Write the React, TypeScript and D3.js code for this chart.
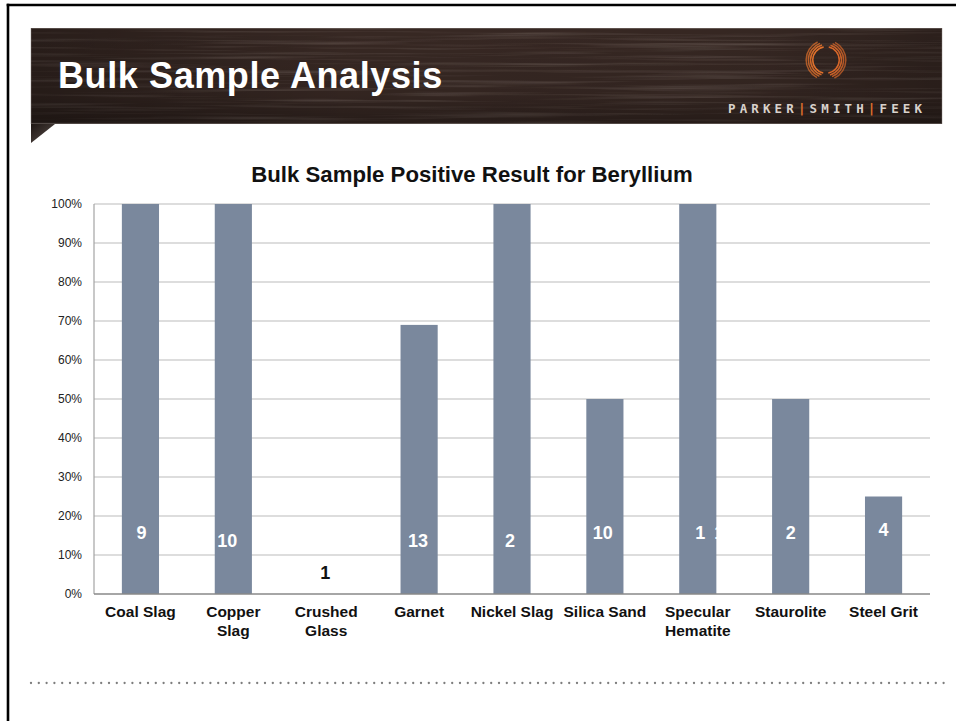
import React from "react";
import * as d3 from "d3";

// ---- data ----
const categories = [
  "Coal Slag",
  "Copper\nSlag",
  "Crushed\nGlass",
  "Garnet",
  "Nickel Slag",
  "Silica Sand",
  "Specular\nHematite",
  "Staurolite",
  "Steel Grit",
];
const percentPositive = [100, 100, 0, 69, 100, 50, 100, 50, 25];
const sampleCounts = [9, 10, 1, 13, 2, 10, 11, 2, 4];
const yTicks = [0, 10, 20, 30, 40, 50, 60, 70, 80, 90, 100];
const slideTitle = "Bulk Sample Analysis";
const chartTitle = "Bulk Sample Positive Result for Beryllium";
const brandParts = ["PARKER", "SMITH", "FEEK"];

// ---- layout (label nudges: dx px, rise above baseline px, extra letter spacing) ----
const labelDx = [1, -6, -1, -1, -2, -2, 12, 0, 0];
const labelRise = [61, 53, 21, 53, 53, 61, 61, 61, 64];
const labelSpacing = [0, 0, 0, 0, 0, 0, 10, 0, 0];

const W = 956;
const H = 721;
const plot = { left: 94, right: 930, top: 204, bottom: 594 };
const FONT = "'Liberation Sans', Arial, Helvetica, sans-serif";
const BAR = "#7a889d";

export default function App() {
  const x = d3
    .scaleBand<string>()
    .domain(categories)
    .range([plot.left, plot.right])
    .paddingInner(0.6)
    .paddingOuter(0.3);
  const y = d3.scaleLinear().domain([0, 100]).range([plot.bottom, plot.top]);
  const fmt = (v: number) => `${v}%`;

  const logoC = { x: 826, y: 60 };
  const arcGen = d3.arc();
  const leftArcs = [0, 1, 2, 3].map((i) =>
    arcGen({
      innerRadius: 12.5 + i * 2.2,
      outerRadius: 14.0 + i * 2.2,
      startAngle: (Math.PI * 2 * (192 + i * 5)) / 360,
      endAngle: (Math.PI * 2 * (350 - i * 5)) / 360,
    } as any)
  );
  const rightArcs = [0, 1, 2, 3].map((i) =>
    arcGen({
      innerRadius: 12.5 + i * 2.2,
      outerRadius: 14.0 + i * 2.2,
      startAngle: (Math.PI * 2 * (12 + i * 5)) / 360,
      endAngle: (Math.PI * 2 * (170 - i * 5)) / 360,
    } as any)
  );

  const dots = d3.range(31, 946, 7.8);

  return (
    <svg
      width={W}
      height={H}
      viewBox={`0 0 ${W} ${H}`}
      style={{ position: "absolute", left: 0, top: 0, background: "#fff" }}
      fontFamily={FONT}
    >
      <defs>
        <filter id="wood" x="0" y="0" width="1" height="1" filterUnits="objectBoundingBox">
          <feTurbulence type="fractalNoise" baseFrequency="0.005 0.3" numOctaves="3" seed="7" result="n" />
          <feColorMatrix
            in="n"
            type="matrix"
            values="0 0 0 0 0.48  0 0 0 0 0.4  0 0 0 0 0.36  1.5 0 0 0 -0.7"
          />
        </filter>
        <linearGradient id="bannerShade" x1="0" y1="0" x2="1" y2="0">
          <stop offset="0" stopColor="#000" stopOpacity="0.3" />
          <stop offset="0.35" stopColor="#000" stopOpacity="0.05" />
          <stop offset="0.8" stopColor="#000" stopOpacity="0.08" />
          <stop offset="1" stopColor="#000" stopOpacity="0.25" />
        </linearGradient>
        <linearGradient id="bannerV" x1="0" y1="0" x2="0" y2="1">
          <stop offset="0" stopColor="#000" stopOpacity="0.0" />
          <stop offset="0.7" stopColor="#000" stopOpacity="0.08" />
          <stop offset="1" stopColor="#000" stopOpacity="0.3" />
        </linearGradient>
        <linearGradient id="fold" x1="0" y1="0" x2="1" y2="1">
          <stop offset="0" stopColor="#1e1613" />
          <stop offset="1" stopColor="#5a504c" />
        </linearGradient>
      </defs>

      {/* slide frame */}
      <line x1={8} y1={3.8} x2={8} y2={H} stroke="#000" strokeWidth={2.6} />
      <line x1={6.7} y1={5} x2={W} y2={5} stroke="#000" strokeWidth={2.6} />

      {/* banner */}
      <path d="M31,124 L31,143 L55,124 Z" fill="url(#fold)" />
      <rect x={31} y={28} width={911} height={96} fill="#3a2a25" />
      <rect x={31} y={28} width={911} height={96} filter="url(#wood)" opacity={0.4} />
      <rect x={31} y={28} width={911} height={96} fill="url(#bannerShade)" />
      <rect x={31} y={28} width={911} height={96} fill="url(#bannerV)" />
      <rect x={31} y={28.5} width={911} height={95} fill="none" stroke="#8a817d" strokeOpacity={0.45} strokeWidth={1} />

      <text x={58} y={88} fill="#fff" fontSize={36} fontWeight="bold" letterSpacing={0.6}>
        {slideTitle}
      </text>

      {/* logo */}
      <g transform={`translate(${logoC.x},${logoC.y})`}>
        {leftArcs.map((d, i) => (
          <path key={"l" + i} d={d || ""} fill="#e0712c" opacity={1 - i * 0.1} />
        ))}
        {rightArcs.map((d, i) => (
          <path key={"r" + i} d={d || ""} fill="#d7672a" opacity={1 - i * 0.1} />
        ))}
      </g>
      <text
        x={728}
        y={113}
        fontSize={12.5}
        fontWeight="bold"
        fill="#d9d2cc"
        textLength={194}
        lengthAdjust="spacing"
        fontFamily="'DejaVu Sans Mono', monospace"
      >
        <tspan>{brandParts[0]}</tspan>
        <tspan fill="#e0712c">|</tspan>
        <tspan>{brandParts[1]}</tspan>
        <tspan fill="#e0712c">|</tspan>
        <tspan>{brandParts[2]}</tspan>
      </text>

      {/* chart title */}
      <text x={472} y={182} textAnchor="middle" fontSize={22.2} fontWeight="bold" fill="#111">
        {chartTitle}
      </text>

      {/* gridlines */}
      {yTicks.map((t) =>
        t === 0 ? null : (
          <line
            key={"g" + t}
            x1={plot.left}
            x2={plot.right}
            y1={y(t)}
            y2={y(t)}
            stroke="#bcbcbc"
            strokeWidth={1.2}
          />
        )
      )}
      {/* y tick labels */}
      {yTicks.map((t) => (
        <text
          key={"t" + t}
          x={82}
          y={y(t)}
          dy="0.35em"
          textAnchor="end"
          fontSize={12}
          fill="#222"
        >
          {fmt(t)}
        </text>
      ))}

      {/* bars */}
      {categories.map((c, i) => (
        <rect
          key={"b" + c}
          x={x(c)}
          y={y(percentPositive[i])}
          width={x.bandwidth()}
          height={y(0) - y(percentPositive[i])}
          fill={BAR}
        />
      ))}

      {/* axes */}
      <line x1={plot.left} x2={plot.left} y1={plot.top} y2={plot.bottom} stroke="#a3a3a3" strokeWidth={1.2} />
      <line x1={plot.left} x2={plot.right} y1={plot.bottom} y2={plot.bottom} stroke="#888" strokeWidth={1.5} />

      {/* count labels */}
      {categories.map((c, i) => (
        <text
          key={"n" + c}
          x={(x(c) as number) + x.bandwidth() / 2 + labelDx[i] + labelSpacing[i] / 2}
          y={y(0) - labelRise[i]}
          dy="0.35em"
          textAnchor="middle"
          fontSize={18}
          fontWeight="bold"
          letterSpacing={labelSpacing[i]}
          fill={percentPositive[i] > 0 ? "#fff" : "#111"}
        >
          {sampleCounts[i]}
        </text>
      ))}

      {/* category labels */}
      {categories.map((c) => (
        <text
          key={"c" + c}
          x={(x(c) as number) + x.bandwidth() / 2}
          y={617}
          textAnchor="middle"
          fontSize={15.5}
          fontWeight="bold"
          fill="#111"
        >
          {c.split("\n").map((line, j) => (
            <tspan key={j} x={(x(c) as number) + x.bandwidth() / 2} dy={j === 0 ? 0 : 18.5}>
              {line}
            </tspan>
          ))}
        </text>
      ))}

      {/* dotted footer rule */}
      {dots.map((dx, i) => (
        <circle key={"d" + i} cx={dx} cy={683} r={1.15} fill="#7d7d7d" />
      ))}
    </svg>
  );
}
